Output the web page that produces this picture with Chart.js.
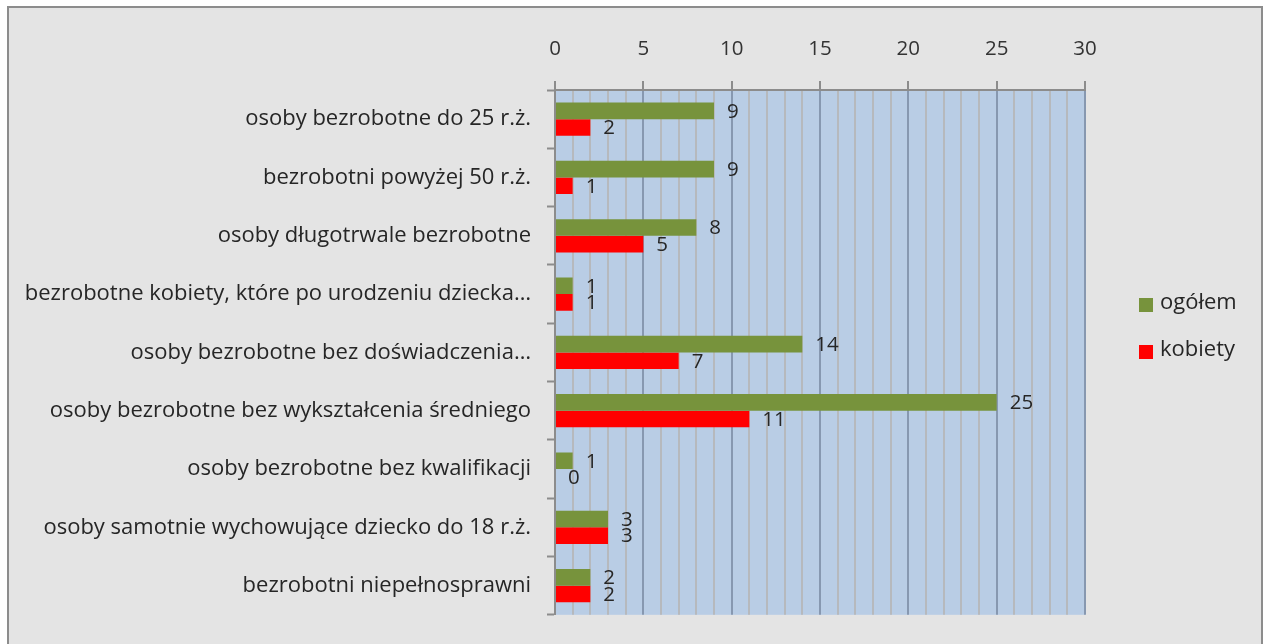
<!DOCTYPE html>
<html><head><meta charset="utf-8">
<script src="https://cdn.jsdelivr.net/npm/chart.js@4.4.1/dist/chart.umd.min.js"></script>
<style>html,body{margin:0;padding:0;background:#fff;overflow:hidden}canvas{display:block}</style>
</head><body>
<canvas id="c" width="1264" height="644"></canvas>
<script>
const categories = [
  'osoby bezrobotne do 25 r.ż.',
  'bezrobotni powyżej 50 r.ż.',
  'osoby długotrwale bezrobotne',
  'bezrobotne kobiety, które po urodzeniu dziecka…',
  'osoby bezrobotne bez doświadczenia…',
  'osoby bezrobotne bez wykształcenia średniego',
  'osoby bezrobotne bez kwalifikacji',
  'osoby samotnie wychowujące dziecko do 18 r.ż.',
  'bezrobotni niepełnosprawni'
];
const ogolem  = [9, 9, 8, 1, 14, 25, 1, 3, 2];
const kobiety = [2, 1, 5, 1, 7, 11, 0, 3, 2];
const xTickLabels = [0, 5, 10, 15, 20, 25, 30];
const seriesNames = ['ogółem', 'kobiety'];
const seriesColors = ['#77933c', '#ff0000'];

const FONT = '"Open Sans", "DejaVu Sans", sans-serif';
const FS_CAT = 22;
const FS_NUM = 20.5;
const FS_LEG = 22;

const framePlugin = {
  id: 'frame',
  beforeDraw(chart) {
    const ctx = chart.ctx;
    ctx.save();
    ctx.fillStyle = '#ffffff';
    ctx.fillRect(0, 0, chart.width, chart.height);
    ctx.fillStyle = '#e4e4e4';
    ctx.fillRect(8, 7, 1254, 660);
    ctx.strokeStyle = '#8c8c8c';
    ctx.lineWidth = 2;
    ctx.strokeRect(8, 7, 1254, 660);
    const a = chart.chartArea;
    ctx.fillStyle = '#b9cde5';
    ctx.fillRect(a.left, a.top, a.right - a.left, a.bottom - a.top);
    ctx.restore();
  }
};

const labelPlugin = {
  id: 'vlabels',
  afterDatasetsDraw(chart) {
    const ctx = chart.ctx;
    ctx.save();
    ctx.font = FS_NUM + 'px ' + FONT;
    ctx.fillStyle = '#262626';
    ctx.textBaseline = 'middle';
    ctx.textAlign = 'left';
    chart.data.datasets.forEach((ds, i) => {
      chart.getDatasetMeta(i).data.forEach((el, j) => {
        ctx.fillText(String(ds.data[j]), el.x + 13, el.y + 1);
      });
    });
    ctx.restore();
  }
};

const legendPlugin = {
  id: 'mylegend',
  afterDraw(chart) {
    const ctx = chart.ctx;
    ctx.save();
    ctx.font = FS_LEG + 'px ' + FONT;
    ctx.textBaseline = 'middle';
    ctx.textAlign = 'left';
    const ys = [305, 352];
    seriesNames.forEach((n, i) => {
      ctx.fillStyle = seriesColors[i];
      ctx.fillRect(1139, ys[i] - 7, 14, 14);
      ctx.fillStyle = '#262626';
      ctx.fillText(n, 1160, ys[i] - 2);
    });
    ctx.restore();
  }
};

new Chart(document.getElementById('c'), {
  type: 'bar',
  data: {
    labels: categories,
    datasets: [
      { label: seriesNames[0], data: ogolem, backgroundColor: seriesColors[0], borderWidth: 0 },
      { label: seriesNames[1], data: kobiety, backgroundColor: seriesColors[1], borderWidth: 0 }
    ]
  },
  options: {
    indexAxis: 'y',
    responsive: false,
    animation: false,
    devicePixelRatio: 1,
    layout: { padding: { left: 0, top: 0, right: 1264 - 1085, bottom: 644 - 622 } },
    datasets: { bar: { categoryPercentage: 0.57, barPercentage: 1.0 } },
    plugins: { legend: { display: false }, tooltip: { enabled: false } },
    scales: {
      x: {
        position: 'top',
        min: 0, max: 30,
        afterFit(s) { s.height = 90; },
        ticks: {
          stepSize: 1, autoSkip: false, maxRotation: 0,
          padding: 20,
          color: '#333333',
          font: { family: FONT, size: FS_NUM },
          callback(v) { return xTickLabels.includes(v) ? String(v) : ''; }
        },
        grid: {
          drawTicks: true, tickLength: 9,
          color(c) { return (c.tick && c.tick.value % 5 === 0) ? '#8798b0' : '#b6b9bd'; },
          lineWidth: 2,
          tickColor(c) { return (c.tick && c.tick.value % 5 === 0) ? '#8c8c8c' : 'rgba(0,0,0,0)'; },
          tickWidth: 2
        },
        border: { display: true, color: '#8c8c8c', width: 2 }
      },
      y: {
        afterFit(s) { s.width = 555; },
        ticks: {
          padding: 16,
          color: '#262626',
          font: { family: FONT, size: FS_CAT },
          autoSkip: false
        },
        grid: {
          offset: true,
          drawOnChartArea: false,
          drawTicks: true, tickLength: 8,
          tickColor: '#8c8c8c', tickWidth: 2
        },
        border: { display: true, color: '#8c8c8c', width: 2 }
      }
    }
  },
  plugins: [framePlugin, labelPlugin, legendPlugin]
});
</script>
</body></html>
